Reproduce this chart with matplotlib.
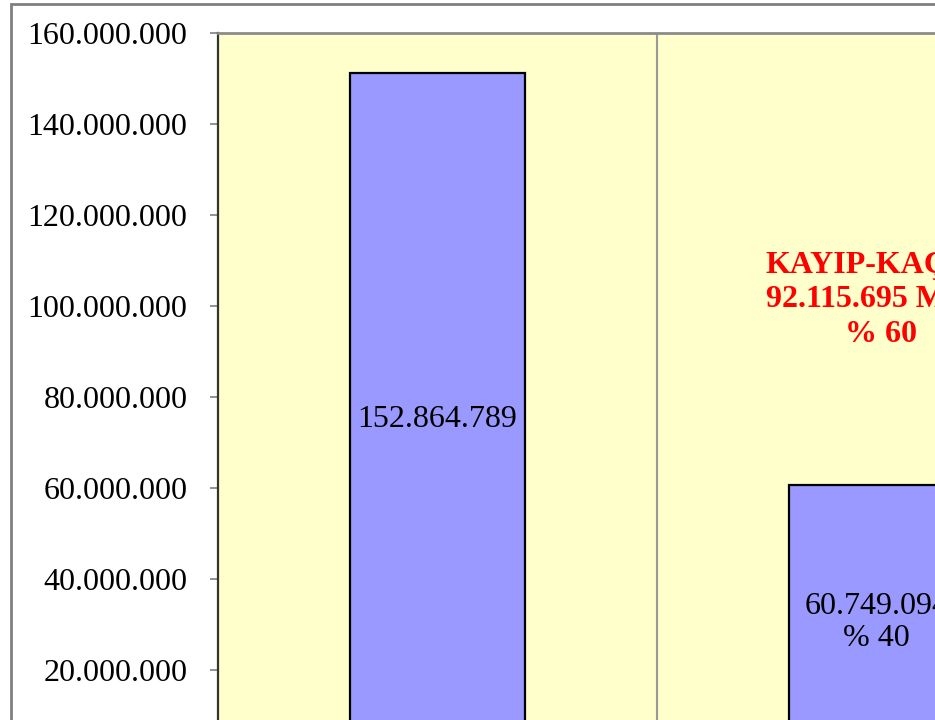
import matplotlib.pyplot as plt
from matplotlib.patches import Rectangle
from matplotlib.ticker import FuncFormatter

# data
categories = ["Toplam", "Tahakkuk"]
bar_values = [151200000, 60749094]
bar_labels = ["152.864.789", "60.749.094\n% 40"]
label_y = [75100000, 30400000]
loss_text = "KAYIP-KAÇAK\n92.115.695 MWh\n% 60"
loss_y = 101400000

plt.rcParams['font.family'] = ['Liberation Serif', 'DejaVu Serif']

fig = plt.figure(figsize=(9.35, 7.2), dpi=100)
fig.patch.set_facecolor('white')

# plot area runs past the right and bottom edges of the picture
ax = fig.add_axes([218 / 935, -41 / 720, 878 / 935, 728 / 720])
ax.set_facecolor('#FFFFCC')

x = list(range(len(categories)))
ax.bar(x, bar_values, width=0.4, color='#9999FF', edgecolor='black', linewidth=1.6, zorder=3)

ax.set_xlim(-0.5, 1.5)
ax.set_ylim(0, 160000000)
ax.set_yticks(range(0, 160000001, 20000000))
ax.yaxis.set_major_formatter(FuncFormatter(lambda v, p: f"{int(v):,}".replace(",", ".")))
ax.tick_params(axis='y', labelsize=23, length=6, width=1.2, color='#808080', pad=16)
ax.set_xticks([])

# category divider
ax.axvline(0.5, color='#999999', linewidth=1.5, zorder=1)

for s in ['top', 'right', 'bottom']:
    ax.spines[s].set_color('#8C8C8C')
    ax.spines[s].set_linewidth(2)
ax.spines['left'].set_color('#333333')
ax.spines['left'].set_linewidth(1.6)

for xi, yi, t in zip(x, label_y, bar_labels):
    ax.text(xi, yi, t, ha='center', va='center', fontsize=23, color='black',
            multialignment='center', linespacing=1.15, zorder=4)

ax.text(1.01, loss_y, loss_text, ha='center', va='center', fontsize=23, color='#FF0000',
        fontweight='bold', multialignment='center', linespacing=1.25, zorder=4)

# outer chart border
fig.add_artist(Rectangle((11 / 935, -0.2), 2, 0.2 + 716 / 720, transform=fig.transFigure,
                         fill=False, edgecolor='#808080', linewidth=2, clip_on=False))

fig.savefig('out.png', dpi=100)
